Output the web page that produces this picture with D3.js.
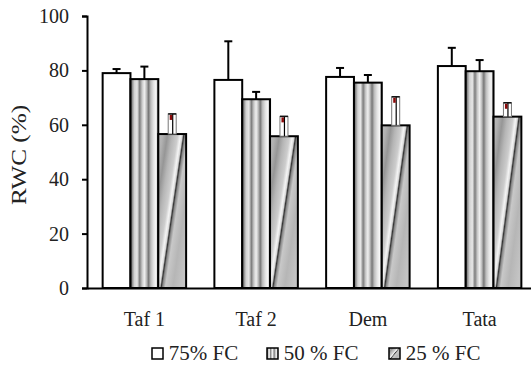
<!DOCTYPE html>
<html>
<head>
<meta charset="utf-8">
<script src="https://cdn.jsdelivr.net/npm/d3@7"></script>
<style>
  body { margin: 0; background: #fff; }
  svg text { font-family: "Liberation Serif", "Times New Roman", serif; }
</style>
</head>
<body>
<div id="chart"></div>
<script>
const categories = ['Taf 1', 'Taf 2', 'Dem', 'Tata'];
const seriesNames = ['75% FC', '50 % FC', '25 % FC'];
const fc75 = [79.0, 76.5, 77.6, 81.6];
const fc50 = [76.8, 69.4, 75.5, 79.7];
const fc25 = [56.6, 55.8, 59.8, 63.0];
const err75 = [1.5, 14.2, 3.3, 6.7];
const err50 = [4.6, 2.7, 2.8, 4.1];
const err25 = [7.4, 7.3, 10.5, 5.1];
const yTicks = [0, 20, 40, 60, 80, 100];

const W = 531, H = 365;
const FONT = '"Liberation Serif", "Times New Roman", serif';
const svg = d3.select('#chart').append('svg')
  .attr('width', W).attr('height', H);

const defs = svg.append('defs');

// vertical stripes for 50 % FC
const g50 = defs.append('linearGradient').attr('id', 'g50')
  .attr('x1', 0).attr('y1', 0).attr('x2', 1).attr('y2', 0);
[[0, '#555'], [0.06, '#8a8a8a'], [0.14, '#d2d2d2'], [0.24, '#e6e6e6'], [0.33, '#7d7d7d'],
 [0.42, '#c9c9c9'], [0.5, '#efefef'], [0.57, '#c2c2c2'], [0.65, '#777'], [0.73, '#bcbcbc'],
 [0.83, '#e2e2e2'], [0.92, '#f7f7f7'], [1, '#9a9a9a']]
  .forEach(([o, c]) => g50.append('stop').attr('offset', o).attr('stop-color', c));

// diagonal bands for 25 % FC
const g25 = defs.append('linearGradient').attr('id', 'g25')
  .attr('x1', 0).attr('y1', 0).attr('x2', 1).attr('y2', 0.82);
[[0, '#bcbcbc'], [0.1, '#b0b0b0'], [0.2, '#969696'], [0.3, '#b6b6b6'], [0.42, '#cdcdcd'],
 [0.48, '#f4f4f4'], [0.52, '#d8d8d8'], [0.55, '#333'], [0.58, '#888'], [0.64, '#c8c8c8'],
 [0.8, '#b6b6b6'], [1, '#c4c4c4']]
  .forEach(([o, c]) => g25.append('stop').attr('offset', o).attr('stop-color', c));

const fills = ['#fff', 'url(#g50)', 'url(#g25)'];

const y = d3.scaleLinear().domain([0, 100]).range([288, 16]);
const x0 = d3.scaleBand().domain(categories).range([87, 537])
  .paddingInner(0.253).paddingOuter(0.14);
const x1 = d3.scaleBand().domain(d3.range(3)).range([0, x0.bandwidth()]);

const rows = categories.map((c, i) => ({
  cat: c,
  vals: [fc75[i], fc50[i], fc25[i]],
  errs: [err75[i], err50[i], err25[i]]
}));

// y axis
const yAxis = svg.append('g')
  .attr('transform', 'translate(87,0)')
  .call(d3.axisLeft(y).tickValues(yTicks).tickSize(5).tickPadding(13));
yAxis.attr('font-family', FONT);
yAxis.select('.domain').attr('stroke', '#000').attr('stroke-width', 2);
yAxis.selectAll('.tick line').attr('stroke', '#000').attr('stroke-width', 2);
yAxis.selectAll('.tick text')
  .attr('font-size', 20).attr('fill', '#222');

svg.append('text')
  .attr('transform', 'translate(26,155) rotate(-90) scale(1.2,1)')
  .attr('text-anchor', 'middle')
  .attr('font-size', 21).attr('fill', '#222')
  .text('RWC (%)');

// bars
const groups = svg.selectAll('.grp').data(rows).enter().append('g')
  .attr('class', 'grp')
  .attr('transform', d => `translate(${x0(d.cat)},0)`);

groups.selectAll('rect.bar')
  .data(d => d.vals.map((v, k) => ({ v, k, e: d.errs[k] })))
  .enter().append('rect')
  .attr('class', 'bar')
  .attr('x', d => x1(d.k))
  .attr('y', d => y(d.v))
  .attr('width', x1.bandwidth())
  .attr('height', d => y(0) - y(d.v))
  .attr('fill', d => fills[d.k])
  .attr('stroke', '#000').attr('stroke-width', 2);

// error bars
groups.each(function (d) {
  const g = d3.select(this);
  d.vals.forEach((v, k) => {
    const cx = x1(k) + x1.bandwidth() / 2;
    const top = y(v + d.errs[k]);
    if (k < 2) {
      g.append('line').attr('x1', cx).attr('x2', cx)
        .attr('y1', y(v)).attr('y2', top)
        .attr('stroke', '#000').attr('stroke-width', 2);
      g.append('line').attr('x1', cx - 4).attr('x2', cx + 4)
        .attr('y1', top).attr('y2', top)
        .attr('stroke', '#000').attr('stroke-width', 2);
    } else {
      g.append('rect').attr('x', cx - 4).attr('y', top)
        .attr('width', 8).attr('height', y(v) - top)
        .attr('fill', '#fff').attr('stroke', '#777').attr('stroke-width', 1);
      g.append('line').attr('x1', cx + 0.5).attr('x2', cx + 0.5)
        .attr('y1', y(v)).attr('y2', top)
        .attr('stroke', '#000').attr('stroke-width', 1.2);
      g.append('rect').attr('x', cx - 2.5).attr('y', top + 1)
        .attr('width', 2.5).attr('height', 5).attr('fill', '#8b0a0a');
      g.append('line').attr('x1', cx - 4).attr('x2', cx + 4)
        .attr('y1', top).attr('y2', top)
        .attr('stroke', '#111').attr('stroke-width', 1.5);
    }
  });
});

// x axis
const xAxis = svg.append('g')
  .attr('transform', `translate(0,${y(0)})`)
  .call(d3.axisBottom(x0).tickSize(0).tickPadding(0));
xAxis.attr('font-family', FONT);
xAxis.select('.domain').attr('stroke', '#000').attr('stroke-width', 2);
xAxis.selectAll('.tick text')
  .attr('font-size', 20).attr('fill', '#222')
  .attr('dy', null).attr('y', 38);

// legend
const legendX = [152, 267, 389];
const legend = svg.selectAll('.leg').data(seriesNames).enter().append('g')
  .attr('class', 'leg')
  .attr('transform', (d, i) => `translate(${legendX[i]},348)`);
legend.append('rect')
  .attr('width', 11).attr('height', 11)
  .attr('fill', (d, i) => fills[i])
  .attr('stroke', '#000').attr('stroke-width', 1.5);
legend.append('text')
  .attr('x', 16).attr('y', 12)
  .attr('font-size', 20).attr('fill', '#222')
  .attr('transform', 'scale(1.05,1)')
  .text(d => d);
</script>
</body>
</html>
